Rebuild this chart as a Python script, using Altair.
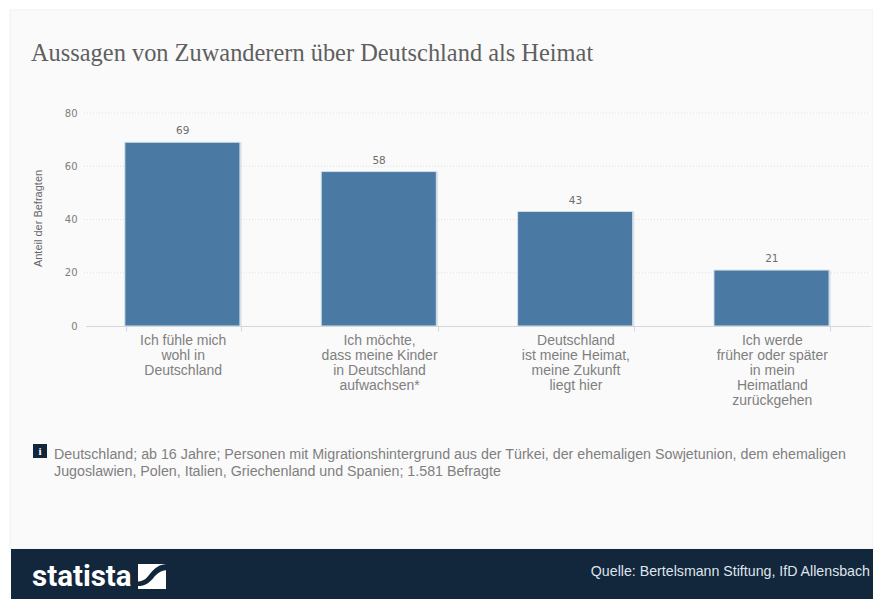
import altair as alt
import pandas as pd

categories = ["Ich fühle mich|wohl in|Deutschland",
              "Ich möchte,|dass meine Kinder|in Deutschland|aufwachsen*",
              "Deutschland|ist meine Heimat,|meine Zukunft|liegt hier",
              "Ich werde|früher oder später|in mein|Heimatland|zurückgehen"]
values = [69, 58, 43, 21]
grid_values = [20, 40, 60, 80]
y_ticks = [0, 20, 40, 60, 80]

title_text = "Aussagen von Zuwanderern über Deutschland als Heimat"
note_lines = ["Deutschland; ab 16 Jahre; Personen mit Migrationshintergrund aus der Türkei, der ehemaligen Sowjetunion, dem ehemaligen",
              "Jugoslawien, Polen, Italien, Griechenland und Spanien; 1.581 Befragte"]
source_text = "Quelle: Bertelsmann Stiftung, IfD Allensbach"

NAVY = "#12263c"
df = pd.DataFrame({"cat": categories, "val": values})
grid_df = pd.DataFrame({"g": grid_values})

y_scale = alt.Scale(domain=[0, 80], range=[318, 105], nice=False)
y_axis = alt.Axis(values=y_ticks, grid=False, domain=False, ticks=False, offset=-76, zindex=1,
                  labelFont="DejaVu Sans", labelFontSize=10, labelColor="#7d7d7d", labelPadding=7)

X = alt.X("cat:N", sort=categories, title=None,
          scale=alt.Scale(range=[77.5, 863], paddingInner=0.414, paddingOuter=0.207),
          axis=alt.Axis(labelExpr="split(datum.label,'|')", labelAngle=0, labelFont="Liberation Sans",
                        labelFontSize=14, labelColor="#7f7f7f", labelLineHeight=15, labelPadding=2,
                        labelOffset=-1, labelLimit=200, offset=-273, zindex=1,
                        tickBand="extent", tickSize=5, tickColor="#d4d8dd", domainColor="#d4d8dd",
                        grid=False, labelBaseline="top"))
Y = alt.Y("val:Q", title=None, scale=y_scale, axis=y_axis)


def box(x, x2, y, y2, color, **kw):
    return alt.Chart().mark_rect(color=color, **kw).encode(
        x=alt.value(x), x2=alt.value(x2), y=alt.value(y), y2=alt.value(y2))


def label(text, x, y, **kw):
    return alt.Chart().mark_text(text=text, align=kw.pop("align", "left"), baseline=kw.pop("baseline", "middle"), **kw).encode(
        x=alt.value(x), y=alt.value(y))


panel = box(2, 865, 2, 541, "#fafafa", stroke="#efefef", strokeWidth=1)
footer = box(3, 865, 541, 591, NAVY)

grid = alt.Chart(grid_df).mark_rule(color="#e2e2e2", strokeDash=[1, 2], strokeWidth=1).encode(
    y=alt.Y("g:Q", title=None, scale=y_scale, axis=y_axis),
    x=alt.value(76), x2=alt.value(861))

shadow = alt.Chart(df).mark_bar(color="#d9dde1", xOffset=0.5, opacity=0.8).encode(x=X, y=Y)
bars = alt.Chart(df).mark_bar(color="#4a7aa4", stroke="#cfe0ea", strokeWidth=1, xOffset=-1.3).encode(x=X, y=Y)
bar_labels = alt.Chart(df).mark_text(font="DejaVu Sans", fontSize=10.5, color="#6d6d6d", dy=-11, dx=-1, baseline="middle").encode(
    x=X, y=Y, text="val:Q")

title = label(title_text, 23, 46, font="Liberation Serif", fontSize=24.4, color="#5f5f5f")
ytitle = label("Anteil der Befragten", 30.7, 210.5, align="center", angle=270, font="Liberation Sans", fontSize=11, color="#666666")

info_box = box(25, 39, 436, 450, NAVY)
info_i = label("i", 32, 443.5, align="center", font="Liberation Serif", fontWeight="bold", fontSize=11, color="#ffffff")
note1 = label(note_lines[0], 46, 446.5, font="Liberation Sans", fontSize=14.25, color="#7f7f7f")
note2 = label(note_lines[1], 46, 463.5, font="Liberation Sans", fontSize=14.25, color="#7f7f7f")

logo_text = label("statista", 24, 569, font="Roboto", fontWeight="bold", fontSize=29.5, color="#ffffff")
logo_sq = box(130, 158, 556, 581, "#ffffff")
swoosh = alt.Chart().mark_point(
    shape="M-1 0.35 C-0.5 0.35 -0.35 0.05 -0.05 -0.3 C0.2 -0.6 0.5 -0.85 1 -0.9 L1 -0.44 C0.6 -0.4 0.35 -0.2 0.1 0.1 C-0.15 0.4 -0.5 0.68 -1 0.68 Z",
    size=784, filled=True, color=NAVY, opacity=1, strokeWidth=0).encode(x=alt.value(144), y=alt.value(568.5))
source = label(source_text, 862, 563.5, align="right", font="Liberation Sans", fontSize=14.2, color="#dfe5ea")

chart = alt.layer(panel, footer, grid, shadow, bars, bar_labels, title, ytitle, info_box, info_i, note1, note2,
                  logo_text, logo_sq, swoosh, source).properties(
    width=865, height=591, padding=0, autosize=alt.AutoSizeParams(type="none"), background="#ffffff"
).configure_view(stroke=None)

chart.save("out.html", embed_options={"renderer": "svg", "actions": False})
